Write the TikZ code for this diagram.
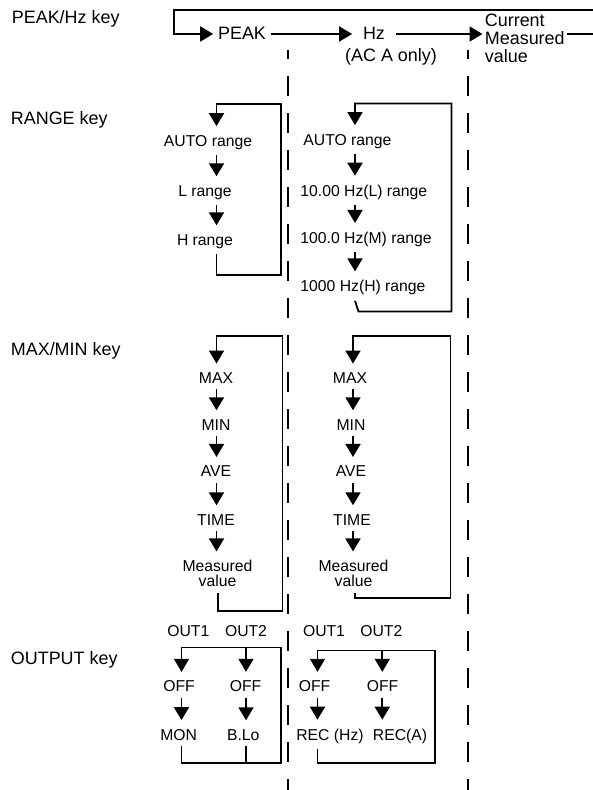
\documentclass[tikz,border=0pt]{standalone}
\usepackage{fontspec}
\setmainfont{Liberation Sans}
\usetikzlibrary{arrows.meta}
\begin{document}
\begin{tikzpicture}[x=1bp,y=-1bp,line width=1.8bp,
  keylbl/.style={font=\fontsize{18}{18.3}\selectfont,anchor=base west,inner sep=0pt},
  toplbl/.style={font=\fontsize{18}{18.3}\selectfont,inner xsep=4bp,inner ysep=0pt,anchor=base},
  lbl/.style={font=\fontsize{15.8}{15}\selectfont,inner xsep=0pt,inner ysep=5bp,anchor=base},
  flow/.style={-{Triangle[width=15bp,length=13bp]}},
  down/.style={flow,shorten >=3bp},
  sep/.style={line width=2bp,dash pattern=on 20bp off 17bp,dash phase=11bp}]
  \useasboundingbox (0,0) rectangle (593,790);

  \coordinate (d1t) at (288,50);
  \coordinate (d1b) at (288,790);
  \coordinate (d2t) at (468,50);
  \coordinate (d2b) at (468,790);
  \draw[sep] (d1t) -- (d1b);
  \draw[sep] (d2t) -- (d2b);

  \node[keylbl] (kpeak) at (11,24) {PEAK/Hz key};
  \node[toplbl] (peak) at (242,40) {PEAK};
  \node[toplbl,inner xsep=10bp] (hz) at (374,40) {Hz};
  \node[toplbl] (hznote) at (391,62) {(AC A only)};
  \node[keylbl,align=left,inner xsep=1.5bp] (cur) at (482.5,63) {Current\\Measured\\value};
  \coordinate (tl) at (174,10);
  \coordinate (tr) at (593,10);
  \coordinate (bl) at (174,34);
  \coordinate (br) at (593,34);
  \draw[flow] (tr) -- (tl) -- (bl) -- (peak.west |- bl);
  \draw[flow] (peak.east |- bl) -- (hz.west |- bl);
  \draw[flow] (hz.east |- bl) -- (cur.west |- bl);
  \draw (cur.east |- bl) -- (br);

  \node[keylbl] (krange) at (10,124) {RANGE key};
  \node[lbl] (ra1) at (208,146) {AUTO range};
  \node[lbl] (ra2) at (205,196) {L range};
  \node[lbl] (ra3) at (205,245) {H range};
  \coordinate (rat) at (216.5,104);
  \coordinate (rar) at (281,104);
  \coordinate (rab) at (281,275);
  \coordinate (ral) at (216.5,275);
  \draw[down] (ra3.south -| ral) -- (ral) -- (rab) -- (rar) -- (rat) -- (ra1.north -| rat);
  \draw[down] (ra1.south -| rat) -- (ra2.north -| rat);
  \draw[down] (ra2.south -| rat) -- (ra3.north -| rat);

  \node[lbl,anchor=base west] (rb1) at (302.5,145) {AUTO range};
  \node[lbl,anchor=base west] (rb2) at (299.5,196) {10.00 Hz(L) range};
  \node[lbl,anchor=base west] (rb3) at (299.5,243.3) {100.0 Hz(M) range};
  \node[lbl,anchor=base west] (rb4) at (299.5,291.7) {1000 Hz(H) range};
  \coordinate (rbt) at (355,103.5);
  \coordinate (rbr) at (451.5,103.5);
  \coordinate (rbb) at (451.5,311.5);
  \coordinate (rbl) at (358.5,311.5);
  \draw[down] (rb4.south -| rbt) -- (rbl) -- (rbb) -- (rbr) -- (rbt) -- (rb1.north -| rbt);
  \draw[down] (rb1.south -| rbt) -- (rb2.north -| rbt);
  \draw[down] (rb2.south -| rbt) -- (rb3.north -| rbt);
  \draw[down] (rb3.south -| rbt) -- (rb4.north -| rbt);

  \node[keylbl] (kmax) at (10,355) {MAX/MIN key};
  \node[lbl] (ma1) at (216,383.3) {MAX};
  \node[lbl] (ma2) at (216,430) {MIN};
  \node[lbl] (ma3) at (216,476.7) {AVE};
  \node[lbl] (ma4) at (216,525) {TIME};
  \node[lbl,align=center] (ma5) at (217.5,586.7) {Measured\\value};
  \coordinate (mat) at (216.5,336);
  \coordinate (mar) at (282.5,336);
  \coordinate (mab) at (282.5,611);
  \coordinate (mal) at (218,611);
  \draw[down] (ma5.south -| mal) -- (mal) -- (mab) -- (mar) -- (mat) -- (ma1.north -| mat);
  \draw[down] (ma1.south -| mat) -- (ma2.north -| mat);
  \draw[down] (ma2.south -| mat) -- (ma3.north -| mat);
  \draw[down] (ma3.south -| mat) -- (ma4.north -| mat);
  \draw[down] (ma4.south -| mat) -- (ma5.north -| mat);

  \node[lbl] (mb1) at (350,383.3) {MAX};
  \node[lbl] (mb2) at (351,430) {MIN};
  \node[lbl] (mb3) at (351,476.7) {AVE};
  \node[lbl] (mb4) at (352,525) {TIME};
  \node[lbl,align=center] (mb5) at (353.5,586.7) {Measured\\value};
  \coordinate (mbt) at (353,335.7);
  \coordinate (mbr) at (450.5,335.7);
  \coordinate (mbb) at (450.5,598.3);
  \coordinate (mbl) at (355,598.3);
  \draw[down] (mb5.south -| mbl) -- (mbl) -- (mbb) -- (mbr) -- (mbt) -- (mb1.north -| mbt);
  \draw[down] (mb1.south -| mbt) -- (mb2.north -| mbt);
  \draw[down] (mb2.south -| mbt) -- (mb3.north -| mbt);
  \draw[down] (mb3.south -| mbt) -- (mb4.north -| mbt);
  \draw[down] (mb4.south -| mbt) -- (mb5.north -| mbt);

  \node[keylbl] (kout) at (10,664) {OUTPUT key};
  \node[lbl] (oa1) at (188.3,636.7) {OUT1};
  \node[lbl] (oa2) at (246,636.7) {OUT2};
  \node[lbl] (fa1) at (179,691.7) {OFF};
  \node[lbl] (fa2) at (245.5,691.7) {OFF};
  \node[lbl] (ga1) at (178.7,740) {MON};
  \node[lbl] (ga2) at (243.3,740) {B.Lo};
  \coordinate (oat) at (181.5,647.5);
  \coordinate (oam) at (246,647.5);
  \coordinate (oar) at (281,647.5);
  \coordinate (oab) at (281,763.3);
  \coordinate (oal) at (181.5,763.3);
  \draw[down] (ga1.south -| oal) -- (oal) -- (oab) -- (oar) -- (oat) -- (fa1.north -| oat);
  \draw (ga2.south -| oam) -- (oam |- oab);
  \draw[down] (oam) -- (fa2.north -| oam);
  \draw[down] (fa1.south -| oat) -- (ga1.north -| oat);
  \draw[down] (fa2.south -| oam) -- (ga2.north -| oam);

  \node[lbl] (pa1) at (324,636.7) {OUT1};
  \node[lbl] (pa2) at (381.3,636.7) {OUT2};
  \node[lbl] (fb1) at (314.5,691.7) {OFF};
  \node[lbl] (fb2) at (382.5,691.7) {OFF};
  \node[lbl] (gb1) at (330,740) {REC (Hz)};
  \node[lbl] (gb2) at (400,740) {REC(A)};
  \coordinate (pbt) at (317.5,650);
  \coordinate (pbm) at (382.3,650);
  \coordinate (pbr) at (435,650);
  \coordinate (pbb) at (435,763.3);
  \coordinate (pbl) at (317.5,763.3);
  \draw[line width=0.9bp] (pbr) -- (pbt);
  \draw[down,line width=0.9bp] (pbt) -- (fb1.north -| pbt);
  \draw (gb1.south -| pbl) -- (pbl) -- (pbb) -- (pbr);
  \draw[down] (pbm) -- (fb2.north -| pbm);
  \draw[down] (fb1.south -| pbt) -- (gb1.north -| pbt);
  \draw[down] (fb2.south -| pbm) -- (gb2.north -| pbm);
\end{tikzpicture}
\end{document}
